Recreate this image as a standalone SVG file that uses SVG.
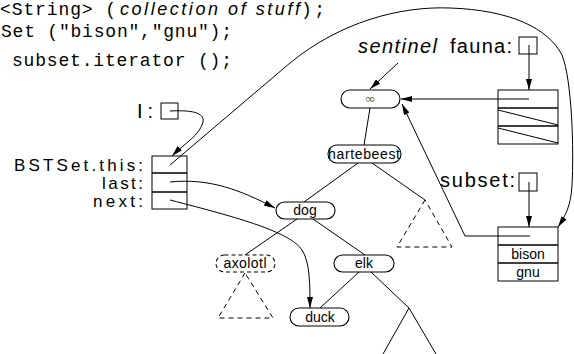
<svg xmlns="http://www.w3.org/2000/svg" width="574" height="354" viewBox="0 0 574 354">
<style>
.code{font-family:"Liberation Mono","DejaVu Sans Mono",monospace;font-size:18px;fill:#000}
.it{font-family:"Liberation Sans","DejaVu Sans",sans-serif;font-style:italic;fill:#000}
.lab{font-family:"Liberation Sans","DejaVu Sans",sans-serif;font-size:20px;fill:#000}
.lab2{font-family:"Liberation Sans","DejaVu Sans",sans-serif;font-size:17px;fill:#000;text-anchor:end}
.nt{font-family:"Liberation Sans","DejaVu Sans",sans-serif;font-size:14px;fill:#000;text-anchor:middle}
.node{fill:#fff;stroke:#000;stroke-width:1.1}
.dnode{fill:#fff;stroke:#000;stroke-width:1.1;stroke-dasharray:4,3}
.box{fill:#fff;stroke:#000;stroke-width:1}
.sep{stroke:#000;stroke-width:1.6;fill:none}
.ln{stroke:#000;stroke-width:1;fill:none}
.dash{stroke:#000;stroke-width:1;fill:none;stroke-dasharray:5,4}
.arr{stroke:#000;stroke-width:1;fill:none;marker-end:url(#ah)}
</style>
<defs>
<marker id="ah" viewBox="0 0 10 6" refX="10" refY="3" markerWidth="11" markerHeight="6" markerUnits="userSpaceOnUse" orient="auto" preserveAspectRatio="none">
<path d="M0,0 L10,3 L0,6 z" fill="#000"/>
</marker>
</defs>
<rect width="574" height="354" fill="#fff"/>

<g id="code">
<text class="code" x="0" y="15" textLength="116" lengthAdjust="spacing">&lt;String&gt; (</text>
<text class="it" x="120" y="15" font-size="18" textLength="180" lengthAdjust="spacing">collection of stuff</text>
<text class="code" x="301" y="15" textLength="24" lengthAdjust="spacing">);</text>
<text class="code" x="1" y="37" textLength="231" lengthAdjust="spacing">Set ("bison","gnu");</text>
<text class="code" x="12" y="66" textLength="220" lengthAdjust="spacing">subset.iterator ();</text>
</g>

<g id="subtree-right">
<path class="dash" d="M425,200 L397,247 L452,247 Z"/>
</g>
<g id="subtree-axolotl">
<path class="dash" d="M245,273 L218,318 L273,318 Z"/>
</g>

<g id="sentinel-label">
<text class="it" x="358" y="53" font-size="20" textLength="79" lengthAdjust="spacing">sentinel</text>
</g>

<g id="node-sentinel">
<rect class="node" x="341" y="90" width="59" height="18" rx="9"/>
<text x="370" y="103" font-family="DejaVu Sans,sans-serif" font-size="13" fill="#666" text-anchor="middle">∞</text>
</g>

<g id="node-hartebeest">
<rect class="node" x="328" y="145" width="73" height="18" rx="9"/>
<text class="nt" x="364" y="159" textLength="72" lengthAdjust="spacing">hartebeest</text>
</g>

<g id="node-dog">
<rect class="node" x="276" y="202" width="59" height="17" rx="8.5"/>
<text class="nt" x="305" y="215">dog</text>
</g>

<g id="node-axolotl">
<rect class="dnode" x="216" y="255" width="59" height="17" rx="8.5"/>
<text class="nt" x="245" y="268" textLength="43" lengthAdjust="spacing">axolotl</text>
</g>

<g id="node-elk">
<rect class="node" x="334" y="255" width="60" height="17" rx="8.5"/>
<text class="nt" x="364" y="268">elk</text>
</g>

<g id="node-duck">
<rect class="node" x="290" y="308" width="59" height="18" rx="9"/>
<text class="nt" x="320" y="322">duck</text>
</g>

<g id="var-I">
<text class="lab" x="137" y="118" textLength="16" lengthAdjust="spacing">I:</text>
<rect class="box" x="161" y="103" width="17" height="16"/>
</g>

<g id="var-bstset">
<text class="lab2" x="143" y="171" textLength="129" lengthAdjust="spacing">BSTSet.this:</text>
<text class="lab2" x="143" y="189" textLength="41" lengthAdjust="spacing">last:</text>
<text class="lab2" x="143" y="207" textLength="50" lengthAdjust="spacing">next:</text>
<rect class="box" x="152" y="156" width="35" height="53"/>
<line class="sep" x1="152" y1="173" x2="187" y2="173"/>
<line class="sep" x1="152" y1="192" x2="187" y2="192"/>
</g>

<g id="var-fauna">
<text class="lab" x="450" y="53" textLength="62" lengthAdjust="spacing">fauna:</text>
<rect class="box" x="519" y="37" width="18" height="17"/>
</g>

<g id="obj-fauna">
<rect class="box" x="498" y="90" width="60" height="54"/>
<line class="sep" x1="498" y1="108" x2="558" y2="108"/>
<line class="sep" x1="498" y1="126" x2="558" y2="126"/>
<line class="ln" x1="498" y1="110" x2="558" y2="125"/>
<line class="ln" x1="498" y1="128" x2="558" y2="143"/>
</g>

<g id="var-subset">
<text class="lab" x="440" y="187" textLength="75" lengthAdjust="spacing">subset:</text>
<rect class="box" x="519" y="173" width="18" height="18"/>
</g>

<g id="obj-subset">
<rect class="box" x="498" y="227" width="60" height="54"/>
<line class="sep" x1="498" y1="245" x2="558" y2="245"/>
<line class="sep" x1="498" y1="263" x2="558" y2="263"/>
<text class="nt" x="528" y="259">bison</text>
<text class="nt" x="528" y="277">gnu</text>
</g>

<g id="connectors">
<path class="arr" d="M170,165 L290,63 C340,22 400,6 450,8 C510,10 548,28 562,55 C572,80 574,150 572,185 C571,205 566,215 558,227"/>
<path class="arr" d="M170,111 C190,110 205,112 203,122 C200,135 185,143 172,156"/>
<path class="arr" d="M170,182 C210,178 240,190 275,208"/>
<path class="arr" d="M170,200 C240,218 290,232 302,250 C310,262 310,285 310,308"/>
<path class="arr" d="M398,63 L370,89"/>
<path class="arr" d="M529,99 L401,99"/>
<path class="arr" d="M529,45 L529,90"/>
<path class="arr" d="M530,236 L465,236 L402,104"/>
<path class="arr" d="M529,182 L529,227"/>
<path class="ln" d="M370,108 L364,145"/>
<path class="ln" d="M358,163 L304,202"/>
<path class="ln" d="M372,163 L425,200"/>
<path class="ln" d="M297,219 L245,255"/>
<path class="ln" d="M313,219 L365,255"/>
<path class="ln" d="M359,272 L320,308"/>
<path class="ln" d="M371,272 L409,308 M409,308 L383,354 M409,308 L436,354"/>
</g>
</svg>
